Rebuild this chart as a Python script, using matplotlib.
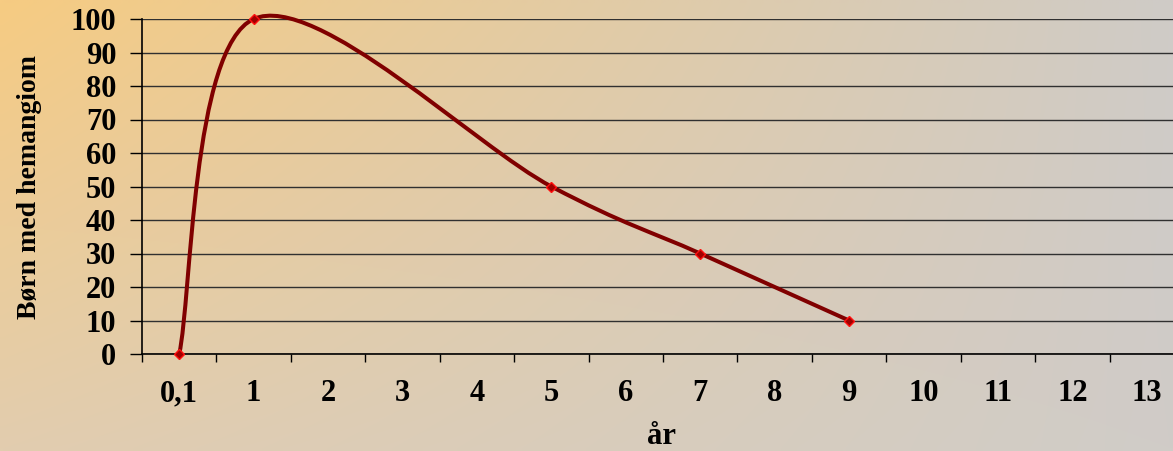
import numpy as np
import matplotlib
matplotlib.use("Agg")
import matplotlib.pyplot as plt
from matplotlib.path import Path
from matplotlib.patches import PathPatch
from matplotlib.ticker import FixedLocator, NullFormatter

# categories on the x axis and measured points (category index, value)
categories = ["0,1", "1", "2", "3", "4", "5", "6", "7", "8", "9", "10", "11", "12", "13"]
point_idx = [0, 1, 5, 7, 9]
point_val = [0, 100, 50, 30, 10]
y_ticks = list(range(0, 101, 10))

W, H = 1173, 451
fig = plt.figure(figsize=(W / 100, H / 100), dpi=100)

# background gradient, orange top-left to grey on the right
bg = fig.add_axes([0, 0, 1, 1], zorder=-10)
c_tl = np.array([246, 203, 130]) / 255
c_bl = np.array([226, 205, 175]) / 255
c_tr = np.array([207, 203, 199]) / 255
c_br = np.array([208, 204, 200]) / 255
u = np.linspace(0, 1, 200)[None, :, None]
v = np.linspace(0, 1, 80)[:, None, None]
grad = (c_tl * (1 - u) * (1 - v) + c_tr * u * (1 - v)
        + c_bl * (1 - u) * v + c_br * u * v)
bg.imshow(grad, aspect="auto", extent=[0, 1, 0, 1], interpolation="bilinear")
bg.axis("off")

ax = fig.add_axes([142 / W, (H - 354) / H, 1042 / W, 335 / H])
ax.patch.set_alpha(0)
ax.set_xlim(-0.5, len(categories) - 0.5)
ax.set_ylim(0, 100)

# Excel-style smoothed line (cubic bezier, tension 1/6)
pts = np.column_stack([point_idx, point_val]).astype(float)
verts = [tuple(pts[0])]
codes = [Path.MOVETO]
n = len(pts)
for i in range(n - 1):
    p_prev = pts[i - 1] if i > 0 else pts[i]
    p_next2 = pts[i + 2] if i + 2 < n else pts[i + 1]
    c1 = pts[i] + (pts[i + 1] - p_prev) / 6
    c2 = pts[i + 1] - (p_next2 - pts[i]) / 6
    verts += [tuple(c1), tuple(c2), tuple(pts[i + 1])]
    codes += [Path.CURVE4] * 3
patch = PathPatch(Path(verts, codes), facecolor="none", edgecolor="#800000",
                  lw=2.9, clip_on=False, zorder=3, capstyle="round", joinstyle="round")
ax.add_patch(patch)
ax.plot(point_idx, point_val, ls="none", marker="D", ms=5, mfc="#A00000",
        mec="#FF1010", mew=1.0, clip_on=False, zorder=4)

# grid and axes
ax.set_yticks(y_ticks)
ax.yaxis.grid(True, color="#303030", lw=1.0)
ax.set_axisbelow(True)
ax.tick_params(axis="y", length=8.5, width=1.0, pad=10, direction="out")
ax.set_xticks(range(len(categories)))
ax.set_xticklabels(categories)
ax.xaxis.set_minor_locator(FixedLocator(np.arange(-0.5, len(categories), 1.0)))
ax.xaxis.set_minor_formatter(NullFormatter())
ax.tick_params(axis="x", which="major", length=0, pad=18)
ax.tick_params(axis="x", which="minor", length=6, width=1.0, direction="out")
for s in ["top", "right"]:
    ax.spines[s].set_visible(False)
for s in ["left", "bottom"]:
    ax.spines[s].set_linewidth(1.2)

for lab in ax.get_xticklabels() + ax.get_yticklabels():
    lab.set_fontfamily("Liberation Serif")
    lab.set_fontweight("bold")
    lab.set_fontsize(22)

font = dict(family="Liberation Serif", weight="bold")
fig.text(30 / W, 1 - 187 / H, "Børn med hemangiom", rotation=90,
         ha="center", va="center", size=20, **font)
fig.text(661 / W, 1 - 437 / H, "år", ha="center", va="center", size=22, **font)

fig.savefig("out.png", dpi=100)
